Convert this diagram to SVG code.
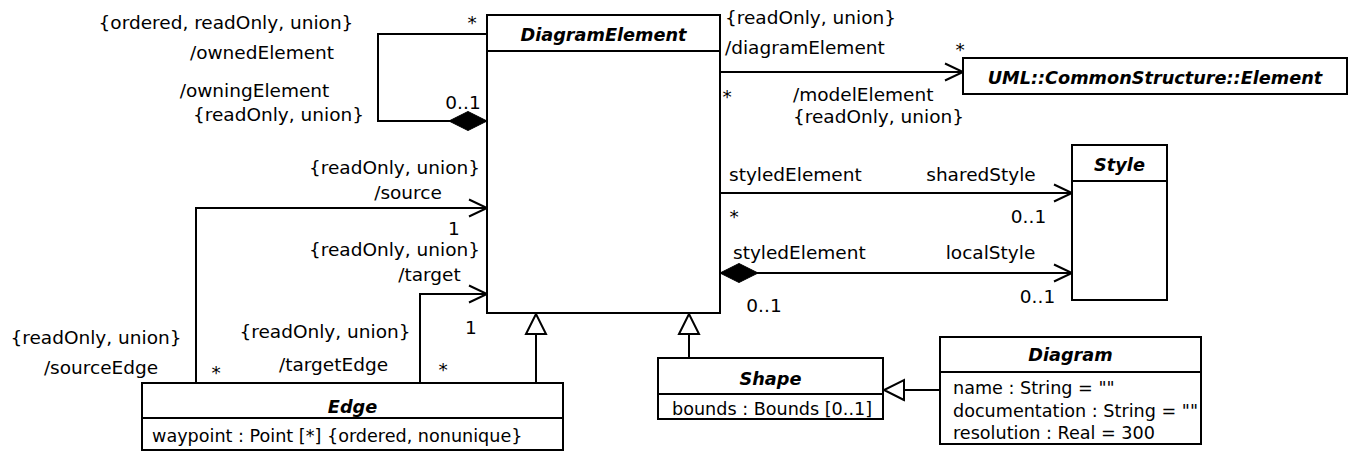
<svg xmlns="http://www.w3.org/2000/svg" width="1351" height="451" viewBox="0 0 1351 451">
<style>
text{font-family:"DejaVu Sans","Verdana",sans-serif;font-size:18.5px;fill:#000}
.h{font-weight:bold;font-style:italic;font-size:17.7px;text-anchor:middle}
.a{font-size:17.6px}
.m{text-anchor:middle}
.e{text-anchor:end}
.box{fill:#fff;stroke:#000;stroke-width:2}
.ln{fill:none;stroke:#000;stroke-width:2}
</style>
<defs>
<marker id="open" markerUnits="userSpaceOnUse" markerWidth="22" markerHeight="22" refX="19" refY="10" orient="auto" overflow="visible">
<path d="M1,1.5 L19,10 L1,18.5" fill="none" stroke="#000" stroke-width="2"/>
</marker>
<marker id="tri" markerUnits="userSpaceOnUse" markerWidth="22" markerHeight="22" refX="20" refY="10" orient="auto" overflow="visible">
<path d="M0,0 L20,10 L0,20 Z" fill="#fff" stroke="#000" stroke-width="2"/>
</marker>
<marker id="dia" markerUnits="userSpaceOnUse" markerWidth="40" markerHeight="22" refX="0" refY="10" orient="auto" overflow="visible">
<path d="M0,10 L19,0.5 L38,10 L19,19.5 Z" fill="#000" stroke="#000" stroke-width="1"/>
</marker>
</defs>

<g id="connectors">
<path class="ln" d="M487,121 L378,121 L378,34 L487,34" marker-start="url(#dia)"/>
<path class="ln" d="M720,72 L963,72" marker-end="url(#open)"/>
<path class="ln" d="M720,193 L1072,193" marker-end="url(#open)"/>
<path class="ln" d="M720,273 L1072,273" marker-start="url(#dia)" marker-end="url(#open)"/>
<path class="ln" d="M196,383 L196,208 L487,208" marker-end="url(#open)"/>
<path class="ln" d="M420,383 L420,294 L487,294" marker-end="url(#open)"/>
<path class="ln" d="M536,383 L536,314" marker-end="url(#tri)"/>
<path class="ln" d="M689,358 L689,314" marker-end="url(#tri)"/>
<path class="ln" d="M940,390 L884,390" marker-end="url(#tri)"/>
</g>

<g id="labels">
<text class="m" x="226" y="29">{ordered, readOnly, union}</text>
<text class="m" x="472" y="29">*</text>
<text class="m" x="262" y="59">/ownedElement</text>
<text class="m" x="254.5" y="97">/owningElement</text>
<text class="m" x="278.5" y="121">{readOnly, union}</text>
<text class="m" x="463" y="108.5">0..1</text>

<text x="725" y="24">{readOnly, union}</text>
<text x="725" y="54">/diagramElement</text>
<text class="m" x="960" y="56">*</text>
<text class="m" x="727" y="103">*</text>
<text x="793" y="101">/modelElement</text>
<text x="793" y="123">{readOnly, union}</text>

<text x="729" y="181">styledElement</text>
<text class="m" x="981" y="181">sharedStyle</text>
<text class="m" x="734" y="223">*</text>
<text class="m" x="1028.5" y="222.5">0..1</text>
<text x="733" y="259">styledElement</text>
<text class="m" x="990.5" y="259">localStyle</text>
<text class="m" x="1037.5" y="302.5">0..1</text>
<text class="m" x="764" y="311.5">0..1</text>

<text class="m" x="394.5" y="174">{readOnly, union}</text>
<text class="m" x="408" y="199">/source</text>
<text class="m" x="454" y="234.5">1</text>
<text class="m" x="394.5" y="256">{readOnly, union}</text>
<text class="m" x="429.5" y="281">/target</text>
<text class="m" x="471" y="334">1</text>
<text class="m" x="96" y="344">{readOnly, union}</text>
<text class="m" x="101" y="374">/sourceEdge</text>
<text class="m" x="216" y="379">*</text>
<text class="m" x="325" y="338">{readOnly, union}</text>
<text class="m" x="333.5" y="371">/targetEdge</text>
<text class="m" x="443" y="376">*</text>
</g>

<g id="DiagramElement">
<rect class="box" x="487" y="15" width="233" height="298"/>
<line class="ln" x1="487" y1="51" x2="720" y2="51"/>
<text class="h" x="603.5" y="41">DiagramElement</text>
</g>

<g id="Element">
<rect class="box" x="963" y="58" width="384" height="36"/>
<text class="h" x="1155" y="84">UML::CommonStructure::Element</text>
</g>

<g id="Style">
<rect class="box" x="1072" y="145" width="95" height="155"/>
<line class="ln" x1="1072" y1="181" x2="1167" y2="181"/>
<text class="h" x="1119.5" y="171">Style</text>
</g>

<g id="Edge">
<rect class="box" x="142" y="383" width="421" height="67"/>
<line class="ln" x1="142" y1="418" x2="563" y2="418"/>
<text class="h" x="352.5" y="412.5">Edge</text>
<text class="a" x="152" y="442">waypoint : Point [*] {ordered, nonunique}</text>
</g>

<g id="Shape">
<rect class="box" x="658" y="358" width="225" height="61"/>
<line class="ln" x1="658" y1="394" x2="883" y2="394"/>
<text class="h" x="770.5" y="385">Shape</text>
<text class="a" x="672" y="415">bounds : Bounds [0..1]</text>
</g>

<g id="Diagram">
<rect class="box" x="940" y="337" width="261" height="107"/>
<line class="ln" x1="940" y1="372" x2="1201" y2="372"/>
<text class="h" x="1070.5" y="361">Diagram</text>
<text class="a" x="953" y="394">name : String = ""</text>
<text class="a" x="953" y="417">documentation : String = ""</text>
<text class="a" x="953" y="439">resolution : Real = 300</text>
</g>
</svg>
